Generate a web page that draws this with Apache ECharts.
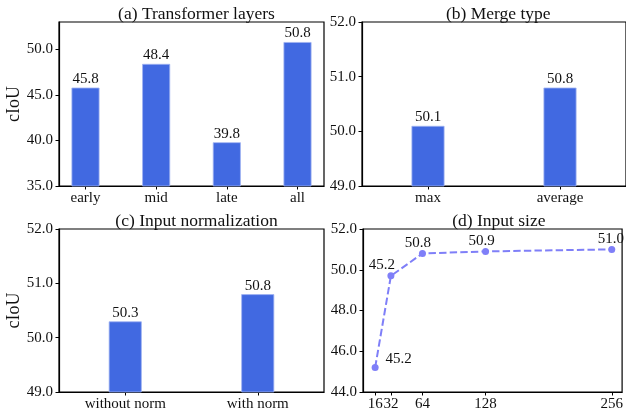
<!DOCTYPE html>
<html>
<head>
<meta charset="utf-8">
<script src="https://cdn.jsdelivr.net/npm/echarts@6/dist/echarts.min.js"></script>
<style>html,body{margin:0;padding:0;background:#fff}#c{width:626px;height:412px}</style>
</head>
<body>
<div id="c"></div>
<script>
// ---- data ----
const catsA = ['early', 'mid', 'late', 'all'];
const valsA = [45.8, 48.4, 39.8, 50.8];
const catsB = ['max', 'average'];
const valsB = [50.1, 50.8];
const catsC = ['without norm', 'with norm'];
const valsC = [50.3, 50.8];
const sizesD = [16, 32, 64, 128, 256];
const valsD = [45.2, 49.7, 50.8, 50.9, 51.0];
const labelsD = ['45.2', '45.2', '50.8', '50.9', '51.0'];
const yTicksA = [35, 40, 45, 50];
const yTicksB = [49, 50, 51, 52];
const yTicksC = [49, 50, 51, 52];
const yTicksD = [44, 46, 48, 50, 52];
const titles = ['(a) Transformer layers', '(b) Merge type', '(c) Input normalization', '(d) Input size'];

// ---- styles ----
const FONT = 'Liberation Serif';
const TXT = '#111';
const BAR = '#4169E1';
const LINE = '#7f7ff8';
const labelOffsetsD = [[23.5, -8], [-9, -11], [-4.5, -10], [-4, -10], [-1, -10]];

const grids = [
  {left: 59, top: 22, width: 265, height: 164},
  {left: 362, top: 22, width: 264.6, height: 164},
  {left: 59, top: 229, width: 265, height: 165},
  {left: 363, top: 229, width: 263.6, height: 165}
];

function xAxisCfg(i, min, max, ticks, fmt) {
  return {
    gridIndex: i, type: 'value', min: min, max: max,
    axisLine: {show: true, onZero: false, lineStyle: {color: '#000', width: 1.2}},
    axisTick: {show: true, length: 3.5, customValues: ticks, lineStyle: {color: '#000', width: 1}},
    axisLabel: {customValues: ticks, formatter: fmt, color: TXT, fontFamily: FONT, fontSize: 15, margin: 5},
    splitLine: {show: false}
  };
}
function yAxisCfg(i, min, max, ticks, name) {
  const a = {
    gridIndex: i, type: 'value', min: min, max: max,
    axisLine: {show: true, onZero: false, lineStyle: {color: '#000', width: 1.2}},
    axisTick: {show: true, length: 3.5, customValues: ticks, lineStyle: {color: '#000', width: 1}},
    axisLabel: {customValues: ticks, formatter: v => Number(v).toFixed(1), color: TXT, fontFamily: FONT, fontSize: 15, margin: 6},
    splitLine: {show: false}
  };
  if (name) {
    a.name = name; a.nameLocation = 'middle'; a.nameGap = 32;
    a.nameTextStyle = {fontFamily: FONT, fontSize: 18, color: TXT};
  }
  return a;
}
function barSeries(i, vals, width) {
  return {
    type: 'bar', xAxisIndex: i, yAxisIndex: i,
    data: vals.map((v, k) => [k, v]),
    barWidth: width,
    itemStyle: {color: BAR, borderColor: '#9fb3f1', borderWidth: 0.8},
    label: {show: true, position: 'top', distance: 1, formatter: p => p.value[1].toFixed(1),
      fontFamily: FONT, fontSize: 15, color: TXT},
    silent: true
  };
}

const chart = echarts.init(document.getElementById('c'), null, {renderer: 'canvas'});
chart.setOption({
  animation: false,
  backgroundColor: '#fff',
  title: titles.map((t, i) => ({
    text: t, left: grids[i].left + grids[i].width / 2 - (i % 2 === 1 ? 1 : 0), top: i < 2 ? 0 : 207,
    textAlign: 'center',
    textStyle: {fontFamily: FONT, fontSize: 17.5, fontWeight: 'normal', color: TXT}
  })),
  grid: grids.map(g => Object.assign({show: true, borderColor: '#000', borderWidth: 1.2, backgroundColor: 'transparent'}, g)),
  xAxis: [
    xAxisCfg(0, -0.375, 3.375, [0, 1, 2, 3], v => catsA[Math.round(v)]),
    xAxisCfg(1, -0.5, 1.5, [0, 1], v => catsB[Math.round(v)]),
    xAxisCfg(2, -0.5, 1.5, [0, 1], v => catsC[Math.round(v)]),
    xAxisCfg(3, 3.7, 266.5, sizesD, v => String(v))
  ],
  yAxis: [
    yAxisCfg(0, 35, 53, yTicksA, 'cIoU'),
    yAxisCfg(1, 49, 52, yTicksB, null),
    yAxisCfg(2, 49, 52, yTicksC, 'cIoU'),
    yAxisCfg(3, 44, 52, yTicksD, null)
  ],
  series: [
    barSeries(0, valsA, 28),
    barSeries(1, valsB, 33),
    barSeries(2, valsC, 33),
    {
      type: 'line', xAxisIndex: 3, yAxisIndex: 3,
      data: sizesD.map((s, k) => ({
        value: [s, valsD[k]],
        label: {offset: labelOffsetsD[k]}
      })),
      symbol: 'circle', symbolSize: 7,
      lineStyle: {color: LINE, width: 2, type: [7.4, 3.2]},
      itemStyle: {color: LINE},
      label: {show: true, position: 'inside', formatter: p => labelsD[p.dataIndex],
        fontFamily: FONT, fontSize: 15, color: TXT},
      silent: true
    }
  ]
});
</script>
</body>
</html>
